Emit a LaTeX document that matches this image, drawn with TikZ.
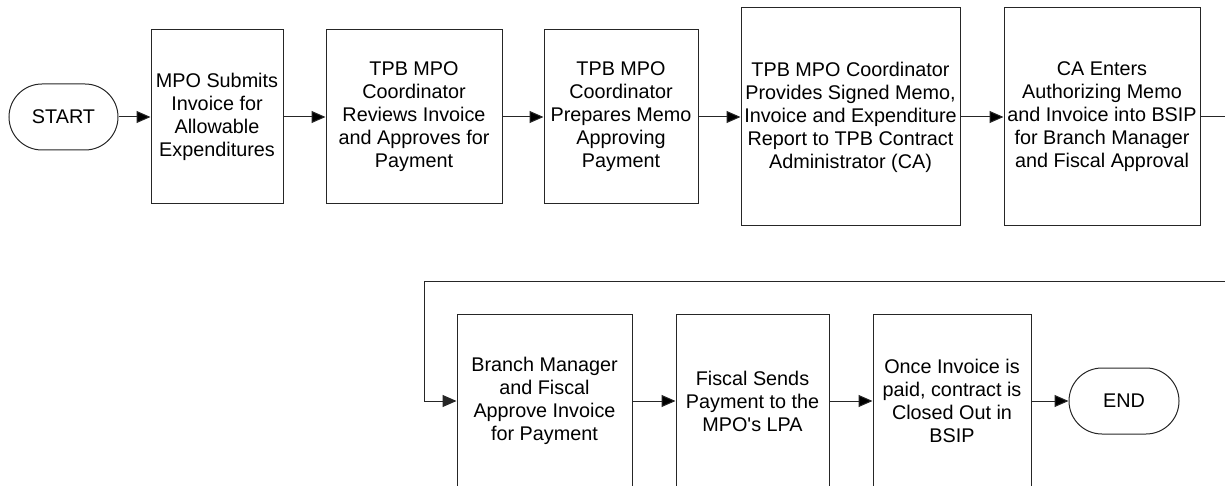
\documentclass[tikz,border=0pt]{standalone}
\usepackage{fontspec}
\setmainfont{Liberation Sans}
\usetikzlibrary{arrows.meta}

\tikzset{
  stepbox/.style={draw=black!85, line width=1pt, align=center, inner sep=2pt,
    font=\fontsize{19.8}{23}\selectfont},
  termbox/.style={stepbox, rounded corners=33pt, minimum width=109pt, minimum height=66pt},
  flow/.style={-{Triangle[length=14pt,width=12pt]}, line width=1pt, draw=black!85}
}

\begin{document}
\begin{tikzpicture}[x=1pt,y=-1pt]
\useasboundingbox (0,0) rectangle (1225,486);
\clip (0,0) rectangle (1225,486);
\draw (63.5,117) node[termbox] (start) {START};
\draw (217,117) node[stepbox,minimum width=132pt,minimum height=174pt] (b1) {MPO Submits\\Invoice for\\Allowable\\Expenditures};
\draw (414,117) node[stepbox,minimum width=176pt,minimum height=174pt] (b2) {TPB MPO\\Coordinator\\Reviews Invoice\\and Approves for\\Payment};
\draw (621,117) node[stepbox,minimum width=154pt,minimum height=174pt] (b3) {TPB MPO\\Coordinator\\Prepares Memo\\Approving\\Payment};
\draw (850.5,117) node[stepbox,minimum width=219pt,minimum height=218pt] (b4) {TPB MPO Coordinator\\Provides Signed Memo,\\Invoice and Expenditure\\Report to TPB Contract\\Administrator (CA)};
\draw (1102,117) node[stepbox,minimum width=196pt,minimum height=218pt] (b5) {CA Enters\\Authorizing Memo\\and Invoice into BSIP\\for Branch Manager\\and Fiscal Approval};
\draw (544.5,401) node[stepbox,minimum width=175pt,minimum height=174pt] (b6) {Branch Manager\\and Fiscal\\Approve Invoice\\for Payment};
\draw (752.5,401) node[stepbox,minimum width=153pt,minimum height=174pt] (b7) {Fiscal Sends\\Payment to the\\MPO\textquotesingle s LPA};
\draw (952,401) node[stepbox,minimum width=158pt,minimum height=174pt] (b8) {Once Invoice is\\paid, contract is\\Closed Out in\\BSIP};
\draw (1124,401) node[termbox,minimum width=110pt] (finish) {END};
\coordinate (wrapR) at (1245,281);
\coordinate (wrapL) at (424,281);
\path[flow] (start) edge (b1);
\path[flow] (b1) edge (b2);
\path[flow] (b2) edge (b3);
\path[flow] (b3) edge (b4);
\path[flow] (b4) edge (b5);
\draw[flow] (b5.east) -| (wrapR) -- (wrapL) |- (b6.west);
\path[flow] (b6) edge (b7);
\path[flow] (b7) edge (b8);
\path[flow] (b8) edge (finish);
\end{tikzpicture}
\end{document}
